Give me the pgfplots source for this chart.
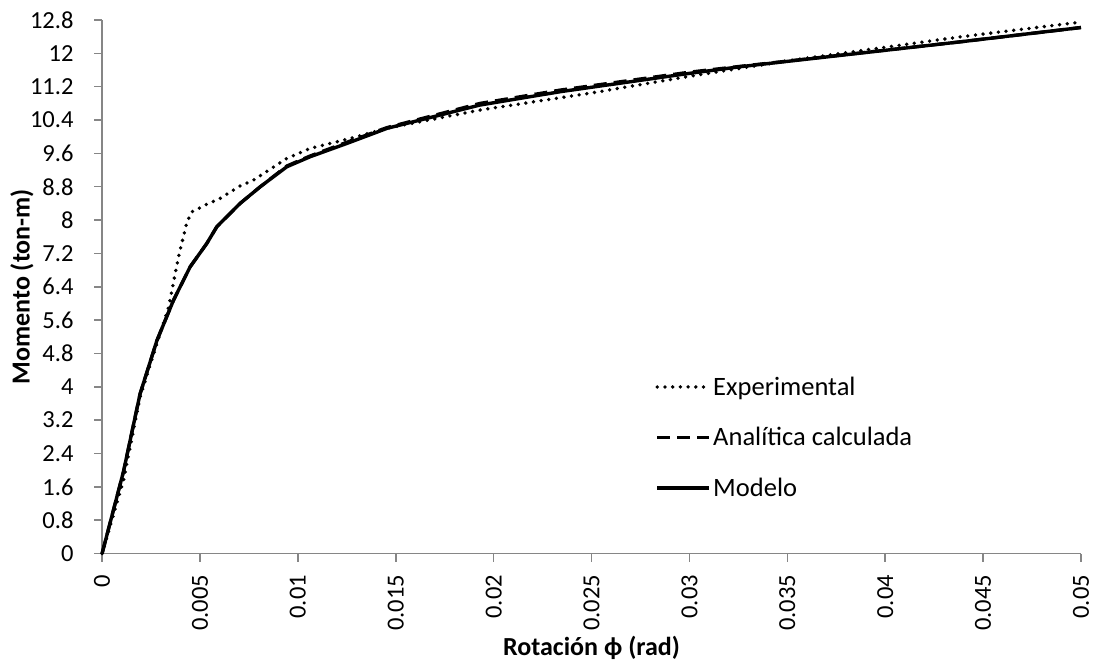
\documentclass[border=0pt]{standalone}
\usepackage{fontspec}
\setmainfont{Carlito}
\usepackage{pgfplots}
\pgfplotsset{compat=1.18}
\definecolor{axgray}{RGB}{134,134,134}
\begin{document}
\begin{tikzpicture}
\begin{axis}[
  scale only axis,
  width=978pt, height=533pt,
  xmin=0, xmax=0.05, ymin=0, ymax=12.8,
  axis x line=bottom, axis y line=left,
  axis line style={-, draw=axgray, line width=1.5pt},
  tick style={draw=axgray, line width=1.5pt},
  tick align=outside,
  major tick length=8pt,
  scaled x ticks=false, scaled y ticks=false,
  xtick={0,0.005,0.01,0.015,0.02,0.025,0.03,0.035,0.04,0.045,0.05},
  xticklabels={0,0.005,0.01,0.015,0.02,0.025,0.03,0.035,0.04,0.045,0.05},
  ytick={0,0.8,1.6,2.4,3.2,4,4.8,5.6,6.4,7.2,8,8.8,9.6,10.4,11.2,12,12.8},
  yticklabels={0,0.8,1.6,2.4,3.2,4,4.8,5.6,6.4,7.2,8,8.8,9.6,10.4,11.2,12,12.8},
  /pgf/number format/assume math mode=true,
  tick label style={font=\fontsize{24.5}{28}\selectfont, text=black},
  xticklabel style={yshift=-10pt, rotate=90, anchor=east},
  yticklabel style={xshift=-17pt},
  xlabel={\textbf{Rotación ϕ (rad)}},
  ylabel={\textbf{Momento (ton-m)}},
  label style={font=\fontsize{26}{30}\selectfont},
  xlabel style={at={(axis description cs:0.5,0)}, anchor=center, yshift=-94pt},
  ylabel style={at={(axis description cs:0,0.5)}, anchor=center, yshift=80pt},
  clip=false,
  legend cell align=left,
  legend image code/.code={\draw[#1] (0pt,0pt) -- (52pt,0pt);},
  legend style={at={(rel axis cs:0.565,0.335)}, anchor=north west, draw=none, fill=none,
    font=\fontsize{26.5}{30}\selectfont, row sep=26.5pt, inner sep=0pt,
    nodes={inner sep=2pt}},
]
\addplot[black, line width=3.8pt, line cap=round, dash pattern=on 0pt off 7.7pt] coordinates {
(0,0) (0.00109,1.75) (0.00194,3.75) (0.0028,5.04) (0.0034,5.91) (0.0039,7.11)
(0.00433,7.95) (0.0046,8.2) (0.00535,8.38) (0.00603,8.52) (0.00705,8.82) (0.00774,8.96)
(0.00944,9.48) (0.01063,9.72) (0.012,9.88) (0.01302,10.0) (0.0145,10.2)
(0.0193,10.64) (0.025,11.05) (0.03,11.45) (0.035,11.82) (0.0393,12.1)
(0.0439,12.40) (0.05,12.75)
};
\addlegendentry{Experimental}
\addplot[black, line width=3.2pt, dash pattern=on 13pt off 7pt] coordinates {
(0,0) (0.00109,1.96) (0.00194,3.83) (0.0028,5.11) (0.00365,6.08) (0.0045,6.88)
(0.00535,7.44) (0.00586,7.84) (0.0062,8.0) (0.00705,8.40) (0.00808,8.80) (0.00944,9.30)
(0.01063,9.54) (0.01251,9.87) (0.01455,10.22) (0.0193,10.80) (0.0234,11.12)
(0.03,11.55) (0.0326,11.69) (0.0439,12.28) (0.05,12.62)
};
\addlegendentry{Analítica calculada}
\addplot[black, line width=3.4pt] coordinates {
(0,0) (0.00109,1.96) (0.00194,3.83) (0.0028,5.11) (0.00365,6.08) (0.0045,6.88)
(0.00535,7.44) (0.00586,7.84) (0.0062,8.0) (0.00705,8.40) (0.00808,8.80) (0.00944,9.28)
(0.01063,9.52) (0.01251,9.84) (0.01455,10.2) (0.0193,10.76) (0.0234,11.08)
(0.03,11.52) (0.0326,11.68) (0.0439,12.28) (0.05,12.62)
};
\addlegendentry{Modelo}
\end{axis}
\path (current axis.south west) +(-102pt,-109pt) (current axis.north east) +(15pt,20pt);
\end{tikzpicture}
\end{document}
